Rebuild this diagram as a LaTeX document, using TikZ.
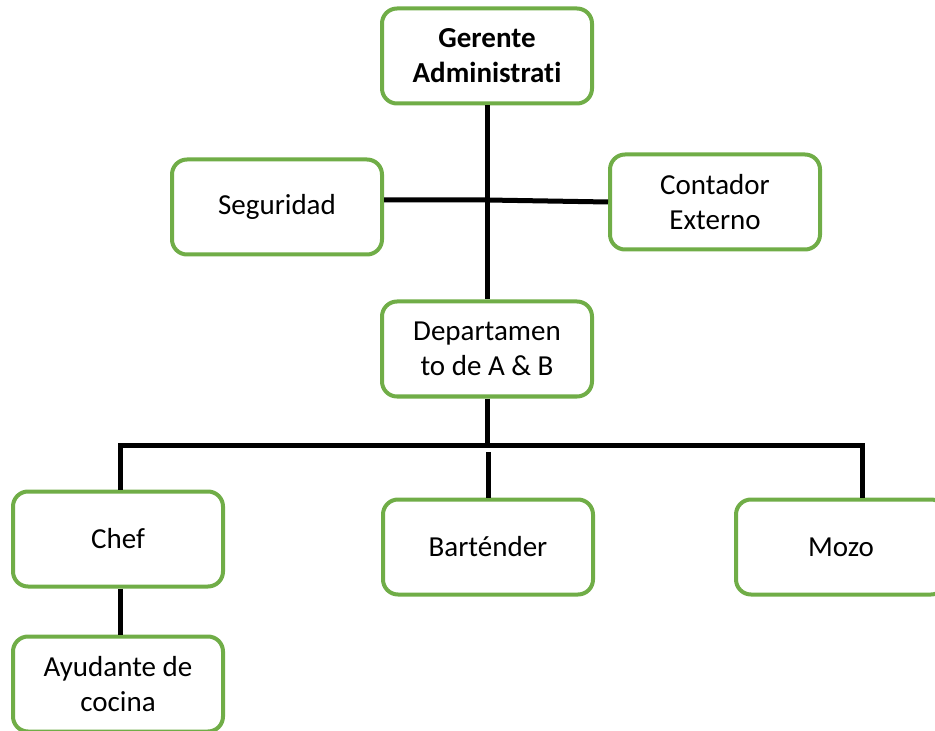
\documentclass[tikz,border=0pt]{standalone}
\usepackage{fontspec}
\setmainfont{Carlito}[Ligatures=NoCommon]
\definecolor{verde}{HTML}{70AD47}
\tikzset{
  caja/.style={draw=verde, line width=2pt, rounded corners=7.5pt, fill=white,
    minimum width=105pt, minimum height=47.5pt, align=center,
    font=\fontsize{14.5}{17.5}\selectfont, inner sep=2pt},
  linea/.style={line width=2.5pt, black}
}
\begin{document}
\begin{tikzpicture}[x=0.5pt,y=-0.5pt]
  \useasboundingbox (0,0) rectangle (935,731);

  % 枠を描画
  \node[caja, font=\fontsize{14.5}{17.5}\selectfont\bfseries] (gerente) at (487,56) {Gerente\\Administrati};
  \node[caja] (seguridad) at (277,207) {Seguridad};
  \node[caja] (contador) at (715,202) {Contador\\Externo};
  \node[caja] (depto) at (487,349) {Departamen\\to de A \& B};
  \node[caja] (chef) at (118,539) {Chef};
  \node[caja] (bart) at (488,547) {Barténder};
  \node[caja] (mozo) at (841,547) {Mozo};
  \node[caja] (ayudante) at (118,684) {Ayudante de\\cocina};

  % 分岐点
  \coordinate (cruce) at (487,200);
  \coordinate (bus) at (487,445);
  \coordinate (busR) at (862,445);
  \coordinate (bartTop) at (488,452);

  % 線を描画
  \draw[linea] (gerente.south) -- (depto.north);
  \draw[linea] (seguridad.east |- cruce) -- (cruce) -- (contador.west);
  \draw[linea] (depto.south) -- (bus);
  \draw[linea] (chef.north -| 120,0) |- (busR) -- (busR |- mozo.north);
  \draw[linea] (bartTop) -- (bart.north);
  \draw[linea] (chef.south -| 120,0) -- (ayudante.north -| 120,0);
\end{tikzpicture}
\end{document}
